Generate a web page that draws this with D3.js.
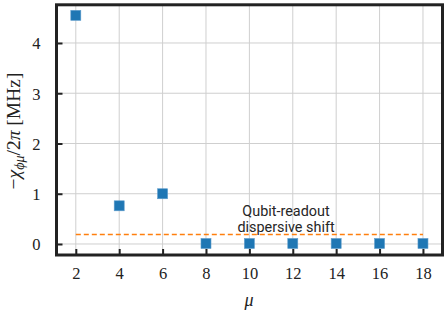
<!DOCTYPE html>
<html><head><meta charset="utf-8">
<script src="https://cdn.jsdelivr.net/npm/d3@7"></script>
<style>body{margin:0;background:#fff}svg{display:block}</style>
</head><body>
<svg id="c" width="448" height="313"></svg>
<script>
const mu = [2, 4, 6, 8, 10, 12, 14, 16, 18];
const chi = [4.55, 0.76, 1.00, 0.01, 0.01, 0.01, 0.01, 0.01, 0.01];
const xTicks = [2, 4, 6, 8, 10, 12, 14, 16, 18];
const yTicks = [0, 1, 2, 3, 4];
const readoutShift = 0.19;
const readoutLabel = ["Qubit-readout", "dispersive shift"];

const svg = d3.select("#c");
const L = 56.5, R = 442.5, T = 4.8, B = 255;
const x = d3.scaleLinear().domain([1.11, 18.9]).range([L, R]);
const y = d3.scaleLinear().domain([-0.219, 4.76]).range([B, T]);
const serif = "'Liberation Serif','DejaVu Serif',serif";

// grid
svg.append("g").selectAll("line").data(xTicks).join("line")
  .attr("x1", d => x(d)).attr("x2", d => x(d)).attr("y1", T).attr("y2", B)
  .attr("stroke", "#cfcfcf").attr("stroke-width", 1);
svg.append("g").selectAll("line").data(yTicks).join("line")
  .attr("y1", d => y(d)).attr("y2", d => y(d)).attr("x1", L).attr("x2", R)
  .attr("stroke", "#cfcfcf").attr("stroke-width", 1);

// dashed readout line
svg.append("line").attr("x1", x(2)).attr("x2", x(18))
  .attr("y1", y(readoutShift)).attr("y2", y(readoutShift))
  .attr("stroke", "#ff7f0e").attr("stroke-width", 1.5).attr("stroke-dasharray", "5,3");

svg.append("text").attr("font-family", "Roboto, sans-serif")
  .attr("font-size", 14.4).attr("fill", "#262626").attr("text-anchor", "middle")
  .selectAll("tspan").data(readoutLabel).join("tspan")
  .attr("x", 286).attr("y", (d, i) => 215.5 + i * 16).text(d => d);

// markers
svg.append("g").selectAll("rect").data(mu).join("rect")
  .attr("x", (d) => x(d) - 5).attr("y", (d, i) => y(chi[i]) - 5)
  .attr("width", 10).attr("height", 10)
  .attr("fill", "#1f77b4").attr("stroke", "#5d9ccc").attr("stroke-width", 0.6);

// axes (ticks inward)
const xAxis = d3.axisBottom(x).tickValues(xTicks).tickFormat(d3.format("d")).tickSize(-6).tickPadding(12).tickSizeOuter(0);
const yAxis = d3.axisLeft(y).tickValues(yTicks).tickFormat(d3.format("d")).tickSize(-6).tickPadding(16).tickSizeOuter(0);
const gx = svg.append("g").attr("transform", `translate(0,${B})`).call(xAxis);
const gy = svg.append("g").attr("transform", `translate(${L},0)`).call(yAxis);
[gx, gy].forEach(g => {
  g.attr("font-size", null).attr("font-family", null);
  g.select(".domain").remove();
  g.selectAll(".tick line").attr("stroke", "#222").attr("stroke-width", 2);
  g.selectAll(".tick text").attr("font-family", serif).attr("font-size", 16.5).attr("fill", "#222");
});
gy.selectAll(".tick text").attr("dy", "0.35em");

// frame
svg.append("rect").attr("x", L).attr("y", T).attr("width", R - L).attr("height", B - T)
  .attr("fill", "none").attr("stroke", "#222").attr("stroke-width", 3);

// axis labels
svg.append("text").attr("x", 249).attr("y", 306).attr("text-anchor", "middle")
  .attr("font-family", serif).attr("font-style", "italic").attr("font-size", 18).attr("fill", "#222").text("μ");

const yl = svg.append("text").attr("transform", "translate(20,131) rotate(-90)")
  .attr("text-anchor", "middle").attr("font-family", serif).attr("font-size", 19.5).attr("fill", "#222");
yl.append("tspan").text("−");
yl.append("tspan").attr("font-style", "italic").text("χ");
yl.append("tspan").attr("font-style", "italic").attr("font-size", 14).attr("dy", 4).text("ϕμ");
yl.append("tspan").attr("dy", -4).text("/2");
yl.append("tspan").attr("font-style", "italic").text("π");
yl.append("tspan").text(" [MHz]");
</script>
</body></html>
